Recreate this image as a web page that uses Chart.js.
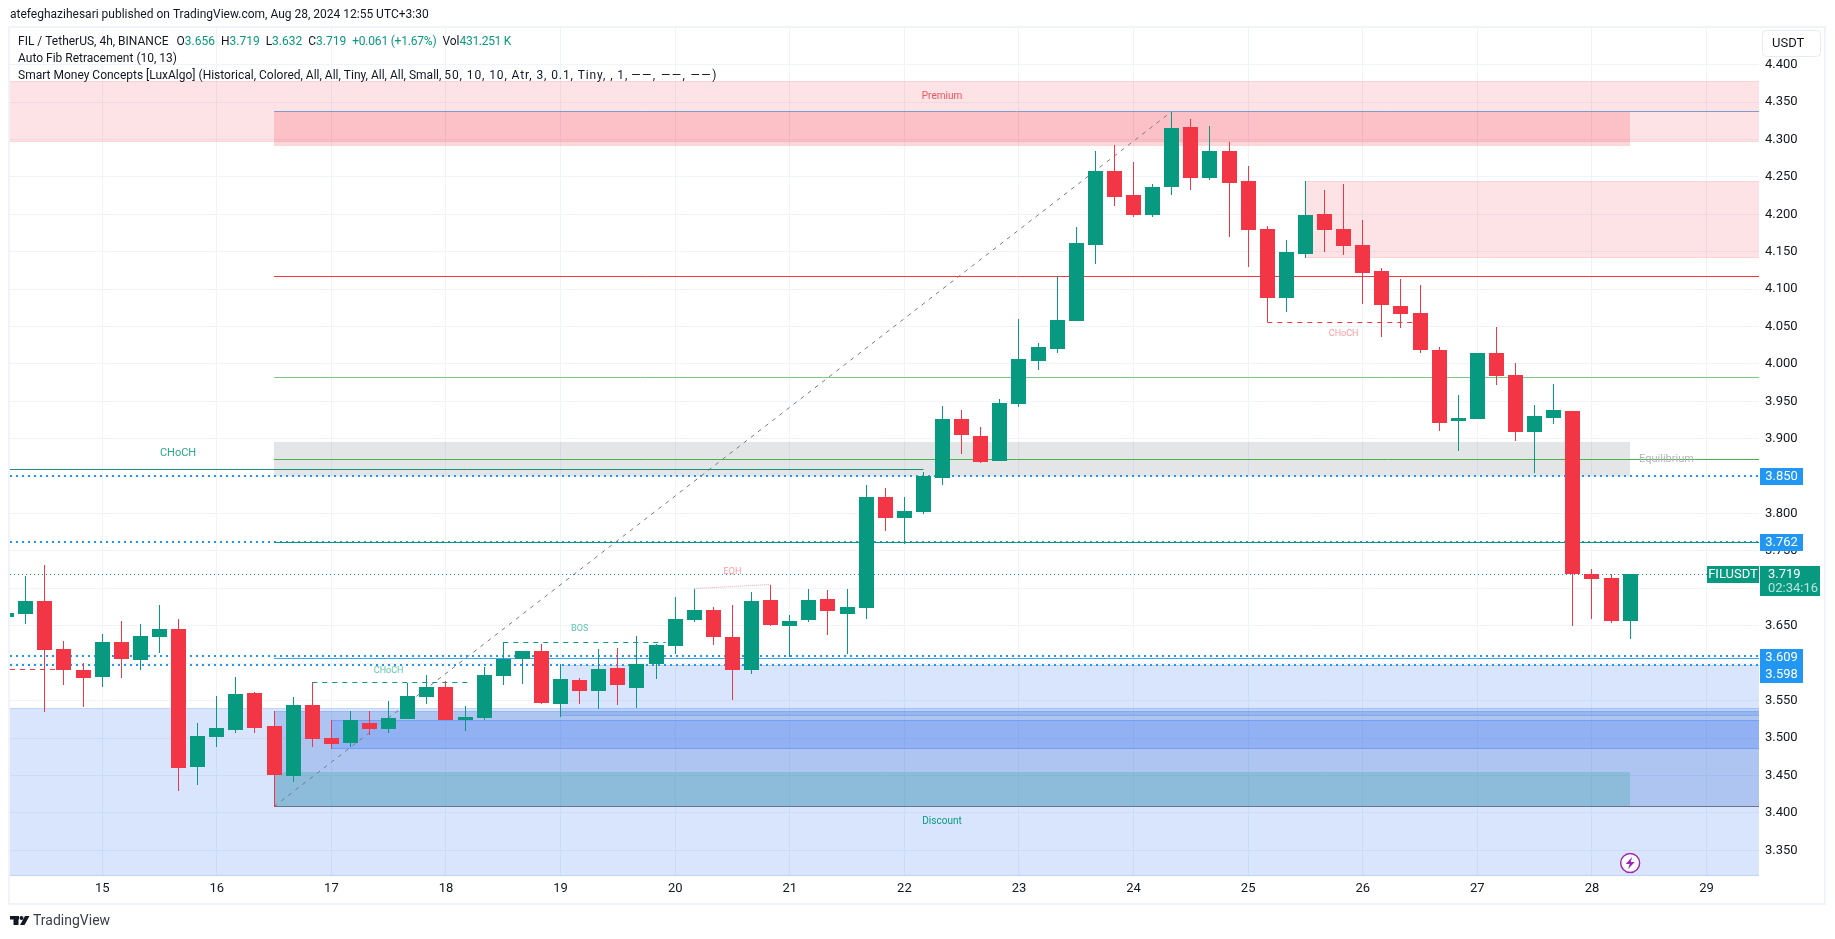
<!DOCTYPE html>
<html>
<head>
<meta charset="utf-8">
<title>FIL / TetherUS</title>
<script src="https://cdn.jsdelivr.net/npm/chart.js@4"></script>
<style>
    html, body { margin: 0; padding: 0; background: #ffffff; }
    canvas { display: block; }
</style>
</head>
<body>
<canvas id="priceChart" width="1835" height="939"></canvas>
<script>
// 4h candles, index 0 is the one cut off by the left edge
const candleOpen = [3.662,3.666,3.683,3.619,3.591,3.582,3.628,3.604,3.635,3.646,3.461,3.501,3.511,3.560,3.516,3.449,3.544,3.500,3.493,3.520,3.512,3.525,3.555,3.568,3.524,3.527,3.583,3.606,3.616,3.546,3.578,3.563,3.594,3.567,3.599,3.623,3.658,3.671,3.635,3.591,3.685,3.650,3.658,3.686,3.666,3.674,3.822,3.794,3.802,3.848,3.927,3.904,3.870,3.947,4.004,4.020,4.058,4.159,4.258,4.226,4.199,4.236,4.317,4.248,4.284,4.244,4.181,4.088,4.147,4.201,4.181,4.159,4.124,4.078,4.068,4.019,3.924,3.927,4.014,3.985,3.909,3.928,3.937,3.719,3.714,3.656];
const candleHigh = [3.667,3.717,3.731,3.630,3.600,3.639,3.656,3.652,3.678,3.659,3.520,3.556,3.582,3.562,3.536,3.555,3.575,3.524,3.536,3.536,3.550,3.574,3.584,3.576,3.543,3.595,3.628,3.616,3.626,3.599,3.580,3.619,3.620,3.637,3.626,3.689,3.699,3.675,3.678,3.695,3.705,3.665,3.699,3.698,3.699,3.838,3.834,3.822,3.856,3.944,3.939,3.916,3.953,4.060,4.028,4.117,4.183,4.284,4.292,4.270,4.241,4.337,4.328,4.318,4.297,4.264,4.185,4.165,4.245,4.233,4.240,4.193,4.128,4.114,4.106,4.022,3.959,4.015,4.050,4.001,3.945,3.973,3.937,3.726,3.719,3.719];
const candleLow = [3.662,3.652,3.535,3.571,3.541,3.568,3.580,3.591,3.614,3.429,3.437,3.488,3.507,3.507,3.408,3.441,3.488,3.485,3.488,3.504,3.507,3.525,3.546,3.524,3.510,3.524,3.571,3.572,3.546,3.528,3.546,3.539,3.544,3.540,3.579,3.612,3.655,3.624,3.551,3.586,3.650,3.608,3.655,3.638,3.612,3.659,3.777,3.760,3.800,3.838,3.879,3.868,3.870,3.943,3.992,4.015,4.058,4.133,4.211,4.197,4.197,4.226,4.233,4.246,4.169,4.130,4.056,4.070,4.142,4.149,4.146,4.080,4.036,4.048,4.015,3.911,3.884,3.927,3.972,3.897,3.854,3.920,3.650,3.659,3.654,3.632];
const candleClose = [3.667,3.683,3.618,3.591,3.580,3.628,3.606,3.636,3.646,3.460,3.503,3.513,3.559,3.513,3.451,3.544,3.499,3.492,3.524,3.512,3.527,3.556,3.568,3.524,3.528,3.584,3.606,3.616,3.547,3.579,3.563,3.592,3.571,3.599,3.624,3.659,3.671,3.635,3.591,3.683,3.651,3.657,3.685,3.670,3.675,3.822,3.794,3.804,3.850,3.927,3.905,3.869,3.948,4.006,4.022,4.059,4.161,4.258,4.223,4.199,4.237,4.316,4.249,4.284,4.242,4.179,4.088,4.149,4.199,4.179,4.158,4.122,4.079,4.067,4.018,3.921,3.928,4.014,3.984,3.909,3.931,3.939,3.719,3.713,3.657,3.719];

// axes
const priceTicks = [3.35,3.40,3.45,3.50,3.55,3.60,3.65,3.70,3.75,3.80,3.85,3.90,3.95,4.00,4.05,4.10,4.15,4.20,4.25,4.30,4.35,4.40];
const dayLabels = ['15','16','17','18','19','20','21','22','23','24','25','26','27','28','29'];
const dayCandles = [5,11,17,23,29,35,41,47,53,59,65,71,77,83,89];
const xMin = 0.173, xMax = 91.745, yMin = 3.3156, yMax = 4.449;

// zones as [first candle, last candle, low, high]
const premiumBand = [xMin, xMax, 4.296, 4.3785];
const premiumBlock = [14, 85, 4.291, 4.3366];
const supplyZone = [68, xMax, 4.1422, 4.2448];
const equilibriumBand = [14, 85, 3.85, 3.8963];
const discountBand = [xMin, xMax, 3.3156, 3.5398];
const demandUpper = [29, xMax, 3.5292, 3.598];
const demandWide = [14, xMax, 3.408, 3.5358];
const demandInner = [17, xMax, 3.4858, 3.5238];
const demandLow = [14, 85, 3.408, 3.4547];

// levels as [first candle, last candle, price]
const blueDotted = [[xMin, xMax, 3.85], [xMin, xMax, 3.762], [xMin, xMax, 3.609], [xMin, xMax, 3.598]];
const closeLevel = [xMin, xMax, 3.719];
const topLevel = [14, xMax, 4.337];
const fibHigh = [14, xMax, 4.1174];
const fibMid = [14, xMax, 3.9823];
const equilibriumLevel = [14, xMax, 3.8727];
const chochLevel = [xMin, 48, 3.8593];
const tealLevel = [14, xMax, 3.762];
const blueLevel = [14, xMax, 3.6067];
const bottomLevel = [14, xMax, 3.408];
const greenDashed = [[16, 24.3, 3.5746], [26, 34.5, 3.628]];
const redDashed = [[xMin, 3, 3.592], [66, 74, 4.056]];
const eqhLine = [[36, 3.6993], [40, 3.7046]];
const fibDiagonal = [[14, 3.408], [61, 4.337]];

// text inside the chart as [text, candle, price]
const greenLabels = [['BOS', 30, 3.646], ['CHoCH', 20, 3.590]];
const redLabels = [['EQH', 38, 3.722], ['CHoCH', 70, 4.040]];
const priceTags = ['3.850', '3.762', '3.609', '3.598'];
const priceTagValues = [3.85, 3.762, 3.6085, 3.5853];

const GREEN = '#089981', RED = '#f23645', BLUE = '#2196f3', GRID = '#f0f3fa', TEXT = '#131722';
const FONT = 'Roboto, sans-serif';

const candleColors = candleOpen.map((o, i) => candleClose[i] >= o ? GREEN : RED);
const candleIndex = candleOpen.map((o, i) => i);

function levelLine(x0, x1, price, color, width, dash) {
    return {
        type: 'line',
        data: [{ x: x0, y: price }, { x: x1, y: price }],
        borderColor: color,
        borderWidth: width,
        borderDash: dash || [],
        pointRadius: 0,
        order: 5
    };
}

function pointLine(points, color, width, dash) {
    return {
        type: 'line',
        data: points.map(p => ({ x: p[0], y: p[1] })),
        borderColor: color,
        borderWidth: width,
        borderDash: dash || [],
        pointRadius: 0,
        order: 5
    };
}

const datasets = [
    {
        type: 'bar',
        data: candleIndex.map(i => ({ x: i, y: [Math.min(candleOpen[i], candleClose[i]), Math.max(candleOpen[i], candleClose[i])] })),
        backgroundColor: candleColors,
        barThickness: 15,
        grouped: false,
        inflateAmount: 0,
        order: 1
    },
    {
        type: 'bar',
        data: candleIndex.map(i => ({ x: i, y: [candleLow[i], candleHigh[i]] })),
        backgroundColor: candleColors,
        barThickness: 1,
        grouped: false,
        inflateAmount: 0,
        order: 2
    },
    levelLine(closeLevel[0], closeLevel[1], closeLevel[2], GREEN, 1, [1, 3]),
    levelLine(topLevel[0], topLevel[1], topLevel[2], '#7f9bc8', 1),
    levelLine(fibHigh[0], fibHigh[1], fibHigh[2], RED, 1),
    levelLine(fibMid[0], fibMid[1], fibMid[2], '#81c784', 1),
    levelLine(equilibriumLevel[0], equilibriumLevel[1], equilibriumLevel[2], '#4caf50', 1),
    levelLine(chochLevel[0], chochLevel[1], chochLevel[2], '#1f8f78', 1),
    levelLine(tealLevel[0], tealLevel[1], tealLevel[2], GREEN, 1),
    levelLine(blueLevel[0], blueLevel[1], blueLevel[2], '#42a5f5', 1),
    levelLine(bottomLevel[0], bottomLevel[1], bottomLevel[2], '#6a7488', 1),
    pointLine(fibDiagonal, '#787b86', 1, [4, 5]),
    pointLine(eqhLine, '#f9a3a9', 1, [1, 1])
];
blueDotted.forEach(l => datasets.push(levelLine(l[0], l[1], l[2], BLUE, 2, [2, 4])));
greenDashed.forEach(l => datasets.push(levelLine(l[0], l[1], l[2], GREEN, 1, [5, 5])));
redDashed.forEach(l => datasets.push(levelLine(l[0], l[1], l[2], RED, 1, [5, 5])));

function drawZone(chart, zone, color, edge) {
    const { ctx, scales: { x, y } } = chart;
    const left = Math.round(x.getPixelForValue(zone[0]));
    const right = Math.round(x.getPixelForValue(zone[1]));
    const top = Math.round(y.getPixelForValue(zone[3]));
    const bottom = Math.round(y.getPixelForValue(zone[2]));
    ctx.fillStyle = color;
    ctx.fillRect(left, top, right - left, bottom - top);
    if (edge) {
        ctx.fillStyle = edge;
        ctx.fillRect(left, top, right - left, 1);
        ctx.fillRect(left, bottom - 1, right - left, 1);
    }
}

// keeps the candles and levels on whole pixels, like the original
const pixelSnap = {
    id: 'pixelSnap',
    afterDatasetsUpdate(chart) {
        chart.getSortedVisibleDatasetMetas().forEach(meta => {
            const lineWidth = chart.data.datasets[meta.index].borderWidth;
            meta.data.forEach(el => {
                if (meta.type === 'bar') {
                    el.x = Math.round(el.x - 0.5) + 0.5;
                    el.y = Math.round(el.y);
                    el.base = Math.round(el.base);
                    if (el.base - el.y < 1) el.y = el.base - 1;
                    el.height = el.base - el.y;
                } else if (lineWidth === 2) {
                    el.y = Math.round(el.y);
                } else {
                    el.y = Math.floor(el.y) + 0.5;
                }
            });
        });
    }
};

const zonePlugin = {
    id: 'zones',
    beforeDatasetsDraw(chart) {
        const pink = 'rgba(242,54,69,0.14)';
        const pinkEdge = 'rgba(242,54,69,0.1)';
        const blueEdge = 'rgba(41,98,255,0.14)';
        drawZone(chart, premiumBand, pink, pinkEdge);
        drawZone(chart, premiumBlock, 'rgba(242,54,69,0.2)');
        drawZone(chart, supplyZone, pink, pinkEdge);
        drawZone(chart, equilibriumBand, 'rgba(120,123,134,0.2)');
        drawZone(chart, discountBand, 'rgba(38,110,240,0.18)', blueEdge);
        drawZone(chart, demandUpper, 'rgba(38,110,240,0.18)', blueEdge);
        drawZone(chart, demandWide, 'rgba(30,90,200,0.23)', blueEdge);
        drawZone(chart, demandInner, 'rgba(41,98,255,0.2)', 'rgba(41,98,255,0.25)');
        drawZone(chart, demandLow, 'rgba(8,153,129,0.2)');
    }
};

function chartText(chart, text, candle, price, color, size) {
    const { ctx, scales: { x, y } } = chart;
    ctx.font = size + 'px ' + FONT;
    ctx.fillStyle = color;
    ctx.textAlign = 'center';
    ctx.textBaseline = 'middle';
    ctx.fillText(text, x.getPixelForValue(candle), y.getPixelForValue(price));
}

function drawLegendRow(ctx, x, y, parts) {
    ctx.textAlign = 'left';
    ctx.textBaseline = 'middle';
    ctx.font = '12px ' + FONT;
    parts.forEach(p => {
        ctx.fillStyle = p[1];
        ctx.letterSpacing = (p[3] || 0) + 'px';
        ctx.fillText(p[0], x, y);
        x += ctx.measureText(p[0]).width + (p[2] || 0);
    });
    ctx.letterSpacing = '0px';
}

function drawPriceTag(chart, text, value) {
    const { ctx, scales: { y } } = chart;
    const py = Math.round(y.getPixelForValue(value));
    ctx.fillStyle = BLUE;
    ctx.fillRect(1760, py - 8, 43, 17);
    ctx.fillStyle = '#ffffff';
    ctx.font = '13px ' + FONT;
    ctx.textAlign = 'center';
    ctx.textBaseline = 'middle';
    ctx.fillText(text, 1781.5, py + 0.5);
}

const overlayPlugin = {
    id: 'overlay',
    afterDraw(chart) {
        const { ctx, scales: { x, y } } = chart;
        ctx.save();

        // labels from the structure indicator
        chartText(chart, 'CHoCH', 8.97, 3.881, '#2aa88c', 11);
        chartText(chart, 'Premium', 48.97, 4.357, '#f2535f', 10);
        chartText(chart, 'Discount', 48.97, 3.388, GREEN, 10);
        chartText(chart, 'Equilibrium', 86.9, 3.8727, '#b2b5be', 11);
        greenLabels.forEach(l => chartText(chart, l[0], l[1], l[2], '#5cc4ae', 9));
        redLabels.forEach(l => chartText(chart, l[0], l[1], l[2], '#ff9aa2', 9));

        // frame
        ctx.strokeStyle = GRID;
        ctx.lineWidth = 2;
        ctx.strokeRect(9, 27, 1816, 877);

        // blue price tags
        priceTags.forEach((t, i) => drawPriceTag(chart, t, priceTagValues[i]));

        // last price
        const lastY = Math.round(y.getPixelForValue(3.719));
        ctx.fillStyle = GREEN;
        ctx.fillRect(1707, lastY - 8, 52, 17);
        ctx.fillRect(1760, lastY - 8, 60, 30);
        ctx.fillStyle = '#ffffff';
        ctx.font = '13px ' + FONT;
        ctx.textAlign = 'center';
        ctx.textBaseline = 'middle';
        ctx.fillText('FILUSDT', 1733, lastY + 0.5);
        ctx.textAlign = 'left';
        ctx.fillText('3.719', 1768, lastY + 0.5);
        ctx.fillStyle = '#b8e4da';
        ctx.fillText('02:34:16', 1768, lastY + 15);

        // currency button
        ctx.fillStyle = '#ffffff';
        ctx.strokeStyle = '#e8eaf2';
        ctx.lineWidth = 1;
        ctx.beginPath();
        ctx.roundRect(1762.5, 30.5, 58, 26, 4);
        ctx.fill();
        ctx.stroke();
        ctx.fillStyle = TEXT;
        ctx.font = '13px ' + FONT;
        ctx.textAlign = 'left';
        ctx.fillText('USDT', 1772, 44);

        // lightning badge under the last candle
        const bx = x.getPixelForValue(85), by = y.getPixelForValue(3.333);
        ctx.beginPath();
        ctx.arc(bx, by, 10.5, 0, Math.PI * 2);
        ctx.fillStyle = '#ffffff';
        ctx.fill();
        ctx.beginPath();
        ctx.arc(bx, by, 9.5, 0, Math.PI * 2);
        ctx.strokeStyle = '#9c27b0';
        ctx.lineWidth = 1.5;
        ctx.stroke();
        ctx.fillStyle = '#9c27b0';
        ctx.beginPath();
        ctx.moveTo(bx + 2, by - 6);
        ctx.lineTo(bx - 4.5, by + 1);
        ctx.lineTo(bx - 0.5, by + 1);
        ctx.lineTo(bx - 2, by + 6);
        ctx.lineTo(bx + 4.5, by - 1);
        ctx.lineTo(bx + 0.5, by - 1);
        ctx.closePath();
        ctx.fill();

        // header
        drawLegendRow(ctx, 10, 15, [['atefeghazihesari published on TradingView.com, Aug 28, 2024 12:55 UTC+3:30', TEXT]]);
        drawLegendRow(ctx, 18, 42, [
            ['FIL / TetherUS, 4h, BINANCE', TEXT, 8],
            ['O', TEXT], ['3.656', GREEN, 6],
            ['H', TEXT], ['3.719', GREEN, 6],
            ['L', TEXT], ['3.632', GREEN, 6],
            ['C', TEXT], ['3.719', GREEN, 6],
            ['+0.061 (+1.67%)', GREEN, 6, -0.2],
            ['Vol', TEXT], ['431.251 K', GREEN, 0, -0.3]
        ]);
        drawLegendRow(ctx, 18, 59, [['Auto Fib Retracement (10, 13)', TEXT]]);
        drawLegendRow(ctx, 18, 76, [
            ['Smart Money Concepts [LuxAlgo] (Historical, Colored, All, All, Tiny, All, All, Small,', TEXT, 3],
            ['50, 10, 10, Atr, 3, 0.1, Tiny, , 1,', TEXT, 3, 0.9],
            ['\u2014\u2014, \u2014\u2014, \u2014\u2014)', TEXT, 0, 1.4]
        ]);

        // TradingView mark
        ctx.fillStyle = '#131722';
        ctx.fillRect(10, 916, 9, 3.5);
        ctx.fillRect(13.5, 916, 5, 9);
        ctx.beginPath();
        ctx.arc(21.5, 918, 2, 0, Math.PI * 2);
        ctx.fill();
        ctx.beginPath();
        ctx.moveTo(25, 916);
        ctx.lineTo(29.5, 916);
        ctx.lineTo(24.5, 925);
        ctx.lineTo(20, 925);
        ctx.closePath();
        ctx.fill();
        ctx.font = '14px ' + FONT;
        ctx.fillStyle = '#3a3e4a';
        ctx.textAlign = 'left';
        ctx.textBaseline = 'middle';
        ctx.fillText('TradingView', 33, 921);

        ctx.restore();
    }
};

new Chart(document.getElementById('priceChart'), {
    data: { datasets: datasets },
    plugins: [pixelSnap, zonePlugin, overlayPlugin],
    options: {
        responsive: false,
        animation: false,
        layout: { padding: { left: 10, top: 28, right: 11, bottom: 36 } },
        plugins: {
            legend: { display: false },
            tooltip: { enabled: false },
            title: { display: false }
        },
        scales: {
            x: {
                type: 'linear',
                offset: false,
                min: xMin,
                max: xMax,
                afterBuildTicks: scale => { scale.ticks = dayCandles.map(v => ({ value: v })); },
                afterFit: scale => { scale.height = 27; },
                grid: { color: GRID, drawTicks: false, offset: false },
                border: { display: false },
                ticks: {
                    autoSkip: false,
                    maxRotation: 0,
                    padding: 5,
                    color: TEXT,
                    font: { family: FONT, size: 13 },
                    callback: value => dayLabels[dayCandles.indexOf(value)]
                }
            },
            y: {
                type: 'linear',
                position: 'right',
                min: yMin,
                max: yMax,
                afterBuildTicks: scale => { scale.ticks = priceTicks.map(v => ({ value: v })); },
                afterFit: scale => { scale.width = 65; },
                grid: { color: GRID, drawTicks: false },
                border: { display: false },
                ticks: {
                    autoSkip: false,
                    padding: 6,
                    color: TEXT,
                    font: { family: FONT, size: 13 },
                    callback: value => value.toFixed(3)
                }
            }
        }
    }
});
</script>
</body>
</html>
